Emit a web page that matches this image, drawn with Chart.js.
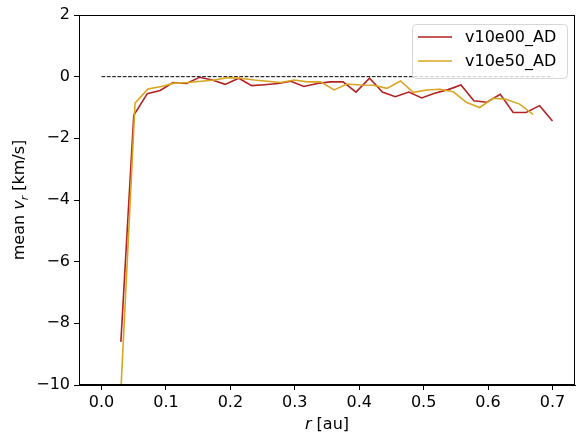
<!DOCTYPE html>
<html>
<head>
<meta charset="utf-8">
<script src="https://cdn.jsdelivr.net/npm/chart.js@4.4.0/dist/chart.umd.min.js"></script>
<style>
  html, body { margin: 0; padding: 0; background: #fff; }
</style>
</head>
<body>
<canvas id="vr-chart" width="584" height="443"></canvas>
<script>
// --- datos ---
const rV10e00 = [0.030, 0.050, 0.071, 0.091, 0.111, 0.132, 0.152, 0.172, 0.192, 0.213,
                 0.233, 0.253, 0.274, 0.294, 0.314, 0.335, 0.355, 0.375, 0.395, 0.416,
                 0.436, 0.456, 0.477, 0.497, 0.517, 0.538, 0.558, 0.578, 0.598, 0.619,
                 0.639, 0.659, 0.680, 0.700];
const vrV10e00 = [-8.6, -1.25, -0.55, -0.45, -0.19, -0.22, -0.02, -0.11, -0.25, -0.05,
                  -0.29, -0.26, -0.22, -0.15, -0.32, -0.22, -0.17, -0.17, -0.50, -0.05,
                  -0.50, -0.65, -0.50, -0.69, -0.54, -0.42, -0.27, -0.78, -0.83, -0.57,
                  -1.16, -1.16, -0.94, -1.44];

const rV10e50 = [0.030, 0.052, 0.072, 0.093, 0.113, 0.134, 0.155, 0.175, 0.196, 0.216,
                 0.237, 0.258, 0.278, 0.299, 0.319, 0.340, 0.361, 0.381, 0.402, 0.422,
                 0.443, 0.464, 0.484, 0.505, 0.525, 0.546, 0.567, 0.587, 0.608, 0.628,
                 0.649, 0.670];
const vrV10e50 = [-10.2, -0.86, -0.40, -0.32, -0.21, -0.19, -0.15, -0.11, -0.03, -0.05,
                  -0.11, -0.15, -0.19, -0.11, -0.17, -0.17, -0.43, -0.24, -0.27, -0.28,
                  -0.38, -0.14, -0.51, -0.43, -0.41, -0.49, -0.84, -1.00, -0.70, -0.73,
                  -0.89, -1.22];

const zeroLineR = [0.0, 0.7];
const zeroLineV = [0, 0];

const seriesLabels = ["v10e00_AD", "v10e50_AD"];
const seriesColors = ["#b22222", "#daa520"];

const xMin = -0.035, xMax = 0.735, xStep = 0.1;
const yMin = -10, yMax = 2, yStep = 2;

const toPoints = (xs, ys) => xs.map((x, i) => ({ x: x, y: ys[i] }));
const FONT = "'DejaVu Sans', sans-serif";

Chart.defaults.font.family = FONT;
Chart.defaults.font.size = 16;
Chart.defaults.color = "#000";

// --- títulos de ejes y leyenda al estilo matplotlib ---
const mplDecor = {
    id: "mplDecor",
    afterDraw(chart) {
        const { ctx, chartArea: a } = chart;
        ctx.save();

        // marco completo
        ctx.strokeStyle = "#000";
        ctx.lineWidth = 1;
        ctx.strokeRect(a.left + 0.5, a.top + 0.5, a.right - a.left - 1, a.bottom - a.top - 1);

        // título eje x: r [au]
        ctx.fillStyle = "#000";
        ctx.textBaseline = "alphabetic";
        const ital = "italic 16px " + FONT, norm = "16px " + FONT;
        ctx.font = ital; const wR = ctx.measureText("r").width;
        ctx.font = norm; const wAu = ctx.measureText(" [au]").width;
        let x0 = (a.left + a.right) / 2 - (wR + wAu) / 2;
        const yx = a.bottom + 44;
        ctx.font = ital; ctx.fillText("r", x0, yx);
        ctx.font = norm; ctx.fillText(" [au]", x0 + wR, yx);

        // título eje y: mean v_r [km/s]
        const sub = "italic 11px " + FONT;
        ctx.font = norm; const w1 = ctx.measureText("mean ").width;
        ctx.font = ital; const w2 = ctx.measureText("v").width;
        ctx.font = sub; const w3 = ctx.measureText("r").width;
        ctx.font = norm; const w4 = ctx.measureText(" [km/s]").width;
        const total = w1 + w2 + w3 + w4;
        ctx.translate(24, (a.top + a.bottom) / 2);
        ctx.rotate(-Math.PI / 2);
        let p = -total / 2;
        ctx.font = norm; ctx.fillText("mean ", p, 0); p += w1;
        ctx.font = ital; ctx.fillText("v", p, 0); p += w2;
        ctx.font = sub; ctx.fillText("r", p, 3.5); p += w3;
        ctx.font = norm; ctx.fillText(" [km/s]", p, 0);
        ctx.setTransform(1, 0, 0, 1, 0, 0);

        // leyenda
        const bw = 155, bh = 54;
        const bx = a.right - 8 - bw, by = a.top + 9;
        ctx.beginPath();
        ctx.roundRect(bx + 0.5, by + 0.5, bw, bh, 4);
        ctx.fillStyle = "rgba(255,255,255,0.8)";
        ctx.fill();
        ctx.strokeStyle = "#d6d6d6";
        ctx.stroke();
        ctx.font = norm;
        ctx.textBaseline = "middle";
        seriesLabels.forEach((lab, i) => {
            const ly = by + 13 + i * 24;
            ctx.strokeStyle = seriesColors[i];
            ctx.lineWidth = 1.6;
            ctx.beginPath();
            ctx.moveTo(bx + 6, ly);
            ctx.lineTo(bx + 40, ly);
            ctx.stroke();
            ctx.fillStyle = "#000";
            ctx.fillText(lab, bx + 53, ly + 1);
        });
        ctx.restore();
    }
};

const ctx = document.getElementById("vr-chart").getContext("2d");
new Chart(ctx, {
    type: "line",
    data: {
        datasets: [
            {
                label: seriesLabels[0],
                data: toPoints(rV10e00, vrV10e00),
                borderColor: seriesColors[0],
                borderWidth: 1.6,
                pointRadius: 0,
                tension: 0,
                order: 2
            },
            {
                label: seriesLabels[1],
                data: toPoints(rV10e50, vrV10e50),
                borderColor: seriesColors[1],
                borderWidth: 1.6,
                pointRadius: 0,
                tension: 0,
                order: 1
            },
            {
                label: "zero",
                data: toPoints(zeroLineR, zeroLineV),
                borderColor: "#000",
                borderWidth: 1,
                borderDash: [3.7, 1.6],
                pointRadius: 0,
                order: 3
            }
        ]
    },
    options: {
        responsive: false,
        animation: false,
        layout: { padding: { top: 15, right: 9, left: 0, bottom: 0 } },
        plugins: { legend: { display: false }, tooltip: { enabled: false } },
        scales: {
            x: {
                type: "linear",
                min: xMin,
                max: xMax,
                grid: { drawOnChartArea: false, tickLength: 5, tickColor: "#000", color: "#000" },
                border: { color: "#000", width: 1 },
                ticks: {
                    stepSize: xStep,
                    includeBounds: false,
                    padding: 3,
                    maxRotation: 0,
                    callback: v => v.toFixed(1)
                },
                afterFit: s => { s.height = 58; }
            },
            y: {
                min: yMin,
                max: yMax,
                grid: { drawOnChartArea: false, tickLength: 5, tickColor: "#000", color: "#000" },
                border: { color: "#000", width: 1 },
                ticks: {
                    stepSize: yStep,
                    includeBounds: false,
                    padding: 4,
                    callback: v => (v < 0 ? "\u2212" + Math.abs(v) : String(v))
                },
                afterFit: s => { s.width = 79; }
            }
        }
    },
    plugins: [mplDecor]
});
</script>
</body>
</html>
